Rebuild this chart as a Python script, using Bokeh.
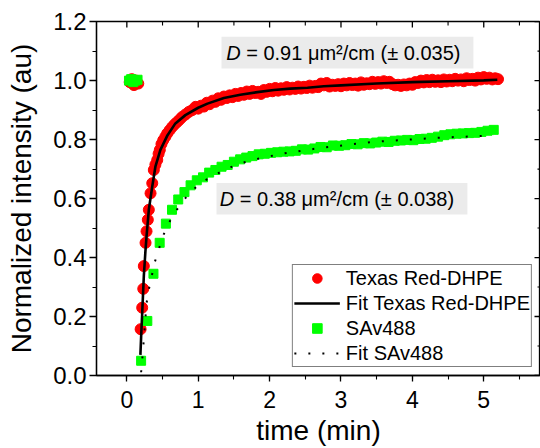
from bokeh.plotting import figure
from bokeh.models import (Range1d, SingleIntervalTicker, NumeralTickFormatter,
                          BoxAnnotation, Label, Legend, LegendItem)
from bokeh.embed import file_html
from bokeh.resources import INLINE

# ---------------- data ----------------
red_pre_t = [0.04, 0.07, 0.10, 0.13, 0.16]
red_pre_y = [0.995, 1.005, 0.985, 1.000, 0.990]

red_t = [0.193, 0.215, 0.230, 0.238, 0.262, 0.276, 0.294, 0.308, 0.332, 0.356, 0.378, 0.400,
         0.426, 0.445, 0.462, 0.485, 0.510, 0.540, 0.566, 0.600, 0.636, 0.670, 0.706, 0.740,
         0.776, 0.820, 0.869, 0.915, 0.962,
         1.00, 1.04, 1.08, 1.12, 1.16, 1.20, 1.24, 1.28, 1.32, 1.36, 1.40, 1.44, 1.48, 1.52,
         1.56, 1.60, 1.64, 1.68, 1.72, 1.76, 1.80, 1.84, 1.88, 1.92, 1.96, 2.00, 2.04, 2.08,
         2.12, 2.16, 2.20, 2.24, 2.28, 2.32, 2.36, 2.40, 2.44, 2.48, 2.52, 2.56, 2.60, 2.64,
         2.68, 2.72, 2.76, 2.80, 2.84, 2.88, 2.92, 2.96, 3.00, 3.04, 3.08, 3.12, 3.16, 3.20,
         3.24, 3.28, 3.32, 3.36, 3.40, 3.44, 3.48, 3.52, 3.56, 3.60, 3.64, 3.68, 3.72, 3.76,
         3.80, 3.84, 3.88, 3.92, 3.96, 4.00, 4.04, 4.08, 4.12, 4.16, 4.20, 4.24, 4.28, 4.32,
         4.36, 4.40, 4.44, 4.48, 4.52, 4.56, 4.60, 4.64, 4.68, 4.72, 4.76, 4.80, 4.84, 4.88,
         4.92, 4.96, 5.00, 5.04, 5.08, 5.12, 5.16, 5.20]
red_y = [0.157, 0.230, 0.294, 0.371, 0.450, 0.489, 0.528, 0.562, 0.618, 0.652, 0.697, 0.715,
         0.731, 0.752, 0.765, 0.785, 0.798, 0.810, 0.821, 0.832, 0.843, 0.852, 0.860, 0.868,
         0.877, 0.885, 0.894, 0.900, 0.911,
         0.905, 0.915, 0.912, 0.925, 0.920, 0.932, 0.928, 0.940, 0.935, 0.946, 0.941, 0.950,
         0.944, 0.955, 0.948, 0.958, 0.952, 0.963, 0.955, 0.965, 0.958, 0.962, 0.955, 0.968,
         0.962, 0.972, 0.964, 0.975, 0.966, 0.974, 0.969, 0.978, 0.970, 0.976, 0.972, 0.980,
         0.973, 0.979, 0.975, 0.983, 0.976, 0.982, 0.978, 0.990, 0.984, 0.992, 0.980, 0.986,
         0.982, 0.988, 0.981, 0.990, 0.984, 0.992, 0.985, 0.990, 0.983, 0.994, 0.986, 0.991,
         0.988, 0.996, 0.989, 0.995, 0.990, 0.998, 0.992, 0.996, 0.988, 0.984, 0.986, 0.982,
         0.987, 0.984, 0.990, 0.986, 0.995, 0.992, 1.000, 0.994, 1.002, 0.995, 1.003, 0.996,
         1.001, 0.995, 1.004, 0.997, 1.003, 0.998, 1.006, 1.000, 1.004, 0.998, 1.008, 1.002,
         1.006, 1.000, 1.010, 1.004, 1.012, 1.006, 1.010, 1.004, 1.008, 1.005]

red_fit_t = [0.19, 0.20, 0.215, 0.238, 0.26, 0.276, 0.308, 0.356, 0.40, 0.47, 0.57, 0.68,
             0.82, 1.00, 1.13, 1.36, 1.59, 1.83, 2.06, 2.29, 2.53, 2.76, 3.00, 3.50, 4.00,
             4.50, 5.00, 5.19]
red_fit_y = [0.07, 0.13, 0.21, 0.337, 0.42, 0.472, 0.562, 0.641, 0.708, 0.765, 0.815, 0.855,
             0.883, 0.908, 0.922, 0.941, 0.952, 0.961, 0.968, 0.973, 0.976, 0.981, 0.984,
             0.990, 0.995, 0.998, 1.001, 1.003]

green_pre_t = [0.03, 0.06, 0.09, 0.12, 0.15]
green_pre_y = [1.000, 1.005, 0.995, 1.000, 1.003]

green_t = [0.200, 0.287, 0.373, 0.460, 0.547, 0.633, 0.720, 0.807, 0.893, 0.980, 1.067,
           1.153, 1.240, 1.327, 1.413, 1.500, 1.587, 1.673, 1.760, 1.847, 1.933, 2.020,
           2.107, 2.193, 2.280, 2.367, 2.453, 2.540, 2.627, 2.713, 2.800, 2.887, 2.973,
           3.060, 3.147, 3.233, 3.320, 3.407, 3.493, 3.580, 3.667, 3.753, 3.840, 3.927,
           4.013, 4.100, 4.187, 4.273, 4.360, 4.447, 4.533, 4.620, 4.707, 4.793, 4.880,
           4.967, 5.053, 5.140]
green_y = [0.050, 0.185, 0.345, 0.450, 0.515, 0.562, 0.597, 0.622, 0.645, 0.662, 0.672,
           0.688, 0.697, 0.708, 0.714, 0.725, 0.733, 0.739, 0.744, 0.750, 0.752, 0.755,
           0.757, 0.759, 0.760, 0.762, 0.767, 0.766, 0.770, 0.775, 0.774, 0.780, 0.779,
           0.781, 0.785, 0.784, 0.788, 0.787, 0.790, 0.793, 0.792, 0.796, 0.797, 0.799,
           0.798, 0.802, 0.803, 0.806, 0.810, 0.815, 0.818, 0.820, 0.821, 0.822, 0.823,
           0.826, 0.830, 0.833]

green_fit_t = [0.20, 0.224, 0.262, 0.276, 0.308, 0.392, 0.449, 0.51, 0.588, 0.682, 0.79,
               0.90, 1.09, 1.256, 1.44, 1.63, 1.82, 2.01, 2.20, 2.39, 2.58, 2.78, 2.97,
               3.17, 3.37, 3.56, 3.76, 3.96, 4.16, 4.36, 4.54, 4.74, 4.94, 5.14]
green_fit_y = [0.011, 0.078, 0.200, 0.245, 0.292, 0.385, 0.429, 0.475, 0.517, 0.556, 0.592,
               0.625, 0.661, 0.683, 0.705, 0.722, 0.734, 0.744, 0.753, 0.760, 0.767, 0.774,
               0.779, 0.785, 0.790, 0.794, 0.797, 0.800, 0.803, 0.806, 0.808, 0.810, 0.812,
               0.814]

# mirror-axis tick positions (top and right frame edges)
top_major = [0, 1, 2, 3, 4, 5]
top_minor = [0.5, 1.5, 2.5, 3.5, 4.5, 5.5]
right_major = [0.0, 0.2, 0.4, 0.6, 0.8, 1.0, 1.2]
right_minor = [0.1, 0.3, 0.5, 0.7, 0.9, 1.1]

x_label = "time (min)"
y_label = "Normalized intensity (au)"
series_names = ["Texas Red-DHPE", "Fit Texas Red-DHPE", "SAv488", "Fit SAv488"]
ann_red = ("D", "= 0.91 \u03bcm\u00b2/cm (\u00b1 0.035)")
ann_green = ("D", "= 0.38 \u03bcm\u00b2/cm (\u00b1 0.038)")

FONT = "Liberation Sans"
RED = "#ff0000"
GREEN = "#00ff00"

X0, X1, Y0, Y1 = -0.425, 5.795, 0.0, 1.2005

p = figure(width=540, height=448, output_backend="svg", toolbar_location=None,
           x_range=Range1d(X0, X1), y_range=Range1d(Y0, Y1),
           min_border_left=96, min_border_right=0, min_border_top=21, min_border_bottom=72)
p.xgrid.visible = False
p.ygrid.visible = False
p.outline_line_color = "black"
p.outline_line_width = 1.3
p.background_fill_color = "white"
p.border_fill_color = "white"

xa = p.xaxis[0]
xa.ticker = SingleIntervalTicker(interval=1, num_minor_ticks=2)
ya = p.yaxis[0]
ya.ticker = SingleIntervalTicker(interval=0.2, num_minor_ticks=2)
ya.formatter = NumeralTickFormatter(format="0.0")

for ax in (xa, ya):
    ax.axis_line_color = "black"
    ax.axis_line_width = 1.3
    ax.major_tick_line_color = "black"
    ax.minor_tick_line_color = "black"
    ax.major_tick_line_width = 1.3
    ax.minor_tick_line_width = 1.1
    ax.major_tick_in = 0
    ax.minor_tick_in = 0
    ax.major_label_text_font = FONT
    ax.major_label_text_color = "black"
    ax.axis_label_text_font = FONT
    ax.axis_label_text_font_size = "28px"
    ax.axis_label_text_font_style = "normal"
    ax.axis_label_text_color = "black"

xa.major_label_text_font_size = "23px"
xa.major_tick_out = 6
xa.minor_tick_out = 4
xa.major_label_standoff = 9
xa.axis_label = x_label
xa.axis_label_standoff = 4

ya.major_label_text_font_size = "24px"
ya.major_tick_out = 7
ya.minor_tick_out = 4
ya.major_label_standoff = 3
ya.axis_label = y_label
ya.axis_label_standoff = 13

# inward ticks on the top and right frame edges
px_x = (X1 - X0) / 444.0
px_y = (Y1 - Y0) / 355.0
p.segment(x0=top_major, y0=[Y1] * len(top_major), x1=top_major,
          y1=[Y1 - 6 * px_y] * len(top_major), line_color="black", line_width=1.3)
p.segment(x0=top_minor, y0=[Y1] * len(top_minor), x1=top_minor,
          y1=[Y1 - 4 * px_y] * len(top_minor), line_color="black", line_width=1.1)
p.segment(x0=[X1] * len(right_major), y0=right_major, x1=[X1 - 6 * px_x] * len(right_major),
          y1=right_major, line_color="black", line_width=1.3)
p.segment(x0=[X1] * len(right_minor), y0=right_minor, x1=[X1 - 3 * px_x] * len(right_minor),
          y1=right_minor, line_color="black", line_width=1.1)

# annotation boxes
p.add_layout(BoxAnnotation(left=1.326, right=4.855, bottom=1.041, top=1.149,
                           fill_color="#ebebeb", fill_alpha=1, line_color=None, level="underlay"))
p.add_layout(BoxAnnotation(left=1.256, right=4.771, bottom=0.546, top=0.653,
                           fill_color="#ebebeb", fill_alpha=1, line_color=None, level="underlay"))

# data
r_red = p.scatter(red_pre_t + red_t, red_pre_y + red_y, marker="circle", size=11,
                  fill_color=RED, line_color=RED)
r_green = p.scatter(green_pre_t + green_t, green_pre_y + green_y, marker="square", size=9,
                    fill_color=GREEN, line_color=GREEN)
r_rfit = p.line(red_fit_t, red_fit_y, line_color="black", line_width=2.6)
r_gfit = p.line(green_fit_t, green_fit_y, line_color="black", line_width=2, line_dash="2 12")

for (x, y, ann) in ((1.392, 1.095, ann_red), (1.303, 0.599, ann_green)):
    p.add_layout(Label(x=x, y=y, text=ann[0], text_font=FONT, text_font_size="20px",
                       text_font_style="italic", text_baseline="middle", text_align="left",
                       text_color="black"))
    p.add_layout(Label(x=x, y=y, x_offset=20, text=ann[1], text_font=FONT,
                       text_font_size="20px", text_baseline="middle", text_align="left",
                       text_color="black"))

legend = Legend(items=[LegendItem(label=series_names[0], renderers=[r_red]),
                       LegendItem(label=series_names[1], renderers=[r_rfit]),
                       LegendItem(label=series_names[2], renderers=[r_green]),
                       LegendItem(label=series_names[3], renderers=[r_gfit])],
                location="bottom_right")
legend.margin = 8
legend.padding = 1
legend.spacing = 1
legend.glyph_width = 46
legend.glyph_height = 24
legend.label_height = 24
legend.label_standoff = 6
legend.label_text_font = FONT
legend.label_text_font_size = "20px"
legend.label_text_color = "black"
legend.border_line_color = "black"
legend.border_line_width = 1
legend.background_fill_color = "white"
legend.background_fill_alpha = 1
p.add_layout(legend)

open("out.html", "w").write(file_html(p, INLINE))
